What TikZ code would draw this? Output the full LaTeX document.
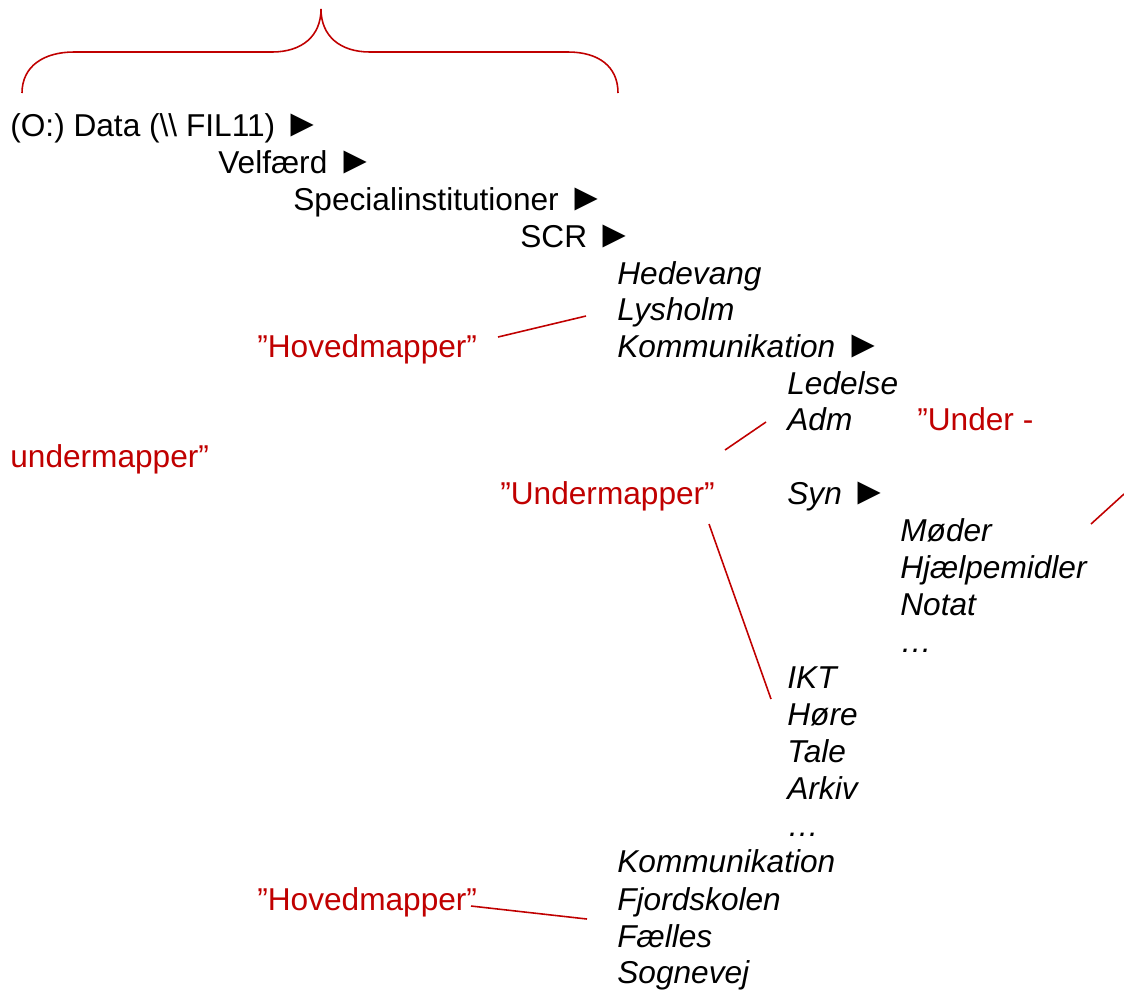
\documentclass[tikz,border=0pt]{standalone}
\usepackage{fontspec}
\setmainfont{Liberation Sans}
\definecolor{mapred}{RGB}{192,0,0}
\newcommand{\pilspids}{\scalebox{1.22}{►}}

\begin{document}
\begin{tikzpicture}[x=0.02cm,y=-0.02cm,
  mappe/.style={anchor=base west,inner sep=0pt,font=\fontsize{18}{21}\selectfont},
  sub/.style={mappe,font=\fontsize{18}{21}\selectfont\itshape},
  note/.style={mappe,text=mapred},
  pil/.style={mapred,line width=0.9pt}]

\useasboundingbox (0,0) rectangle (1124,992);

\node[mappe] (data) at (10,136) {(O:) Data (\textbackslash\textbackslash{} FIL11) \pilspids};
\node[mappe] (velfaerd) at (218,173) {Velfærd \pilspids};
\node[mappe] (special) at (293,210) {Specialinstitutioner \pilspids};
\node[mappe] (scr) at (520,247) {SCR \pilspids};

\node[sub] (hedevang) at (617,284) {Hedevang};
\node[sub] (lysholm) at (617,320) {Lysholm};
\node[sub] (komm) at (617,357) {Kommunikation \pilspids};
\node[sub] (ledelse) at (787,394) {Ledelse};
\node[sub] (adm) at (787,430) {Adm};
\node[sub] (syn) at (787,504) {Syn \pilspids};
\node[sub] (moeder) at (900,541) {Møder};
\node[sub] (hjaelp) at (900,578) {Hjælpemidler};
\node[sub] (notat) at (900,615) {Notat};
\node[sub] (dotsa) at (900,652) {…};
\node[sub] (ikt) at (787,688) {IKT};
\node[sub] (hoere) at (787,725) {Høre};
\node[sub] (tale) at (787,762) {Tale};
\node[sub] (arkiv) at (787,799) {Arkiv};
\node[sub] (dotsb) at (787,836) {…};
\node[sub] (kommb) at (617,872) {Kommunikation};
\node[sub] (fjord) at (617,910) {Fjordskolen};
\node[sub] (faelles) at (617,947) {Fælles};
\node[sub] (sognevej) at (617,983) {Sognevej};

\node[note] (hovedA) at (257,357) {”Hovedmapper”};
\node[note] (underA) at (917,430) {”Under -};
\node[note] (underB) at (10,467) {undermapper”};
\node[note] (underC) at (500,504) {”Undermapper”};
\node[note] (hovedB) at (257,910) {”Hovedmapper”};

\coordinate (hA) at (498,337);
\coordinate (lA) at (586,316);
\coordinate (uA) at (725,450);
\coordinate (aA) at (766,422);
\coordinate (uB) at (709,524);
\coordinate (iA) at (771,699);
\coordinate (mA) at (1091,524);
\coordinate (rA) at (1124,494);
\coordinate (hB) at (471,906);
\coordinate (fA) at (587,919);

\draw[pil] (hA) -- (lA);
\draw[pil] (uA) -- (aA);
\draw[pil] (uB) -- (iA);
\draw[pil] (mA) -- (rA);
\draw[pil] (hB) -- (fA);

\draw[pil] (22,93) .. controls (22,66) and (44,52) .. (74,52) -- (272,52)
  .. controls (302,52) and (321,36) .. (321,9)
  .. controls (321,36) and (340,52) .. (370,52) -- (568,52)
  .. controls (598,52) and (618,66) .. (618,93);

\end{tikzpicture}
\end{document}
